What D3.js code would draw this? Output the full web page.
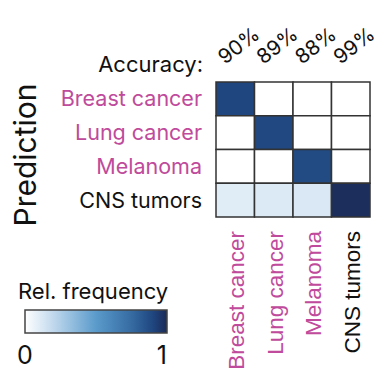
<!DOCTYPE html>
<html>
<head>
<meta charset="utf-8">
<script src="https://cdn.jsdelivr.net/npm/d3@7"></script>
<style>
  body { margin: 0; background: #fff; }
  svg text { font-family: Inter, "Noto Sans", sans-serif; }
</style>
</head>
<body>
<svg id="chart" width="391" height="391"></svg>
<script>
const predicted = ['Breast cancer', 'Lung cancer', 'Melanoma', 'CNS tumors']
const actual = ['Breast cancer', 'Lung cancer', 'Melanoma', 'CNS tumors']
const accuracy = ['90%', '89%', '88%', '99%']
// rows = prediction, columns = true class
const freq = [
  [0.90, 0.00, 0.00, 0.00],
  [0.00, 0.89, 0.00, 0.00],
  [0.00, 0.00, 0.88, 0.00],
  [0.10, 0.11, 0.12, 0.99]
]
const labelColors = ['#c04a9b', '#c04a9b', '#c04a9b', '#111']
const legendTicks = [0, 1]

const svg = d3.select('#chart')
const x = d3.scaleBand().domain(actual).range([216, 370])
const y = d3.scaleBand().domain(predicted).range([82, 217])

const color = d3.scaleLinear()
  .domain([0, 0.2, 0.5, 0.75, 0.9, 1])
  .range(['#ffffff', '#c0d8ed', '#5a9bcb', '#366ba2', '#1f467f', '#1b2b58'])
  .interpolate(d3.interpolateRgb)

const cells = []
freq.forEach((row, i) => row.forEach((v, j) => cells.push({ p: predicted[i], a: actual[j], v })))

svg.append('g').selectAll('rect')
  .data(cells)
  .enter().append('rect')
  .attr('x', d => x(d.a))
  .attr('y', d => y(d.p))
  .attr('width', x.bandwidth())
  .attr('height', y.bandwidth())
  .attr('fill', d => color(d.v))
  .attr('stroke', '#333')
  .attr('stroke-width', 1.5)

// row labels
svg.append('g').selectAll('text')
  .data(predicted)
  .enter().append('text')
  .attr('x', 202)
  .attr('y', d => y(d) + y.bandwidth() / 2)
  .attr('dy', '.35em')
  .attr('text-anchor', 'end')
  .attr('font-size', 21.5)
  .attr('fill', (d, i) => labelColors[i])
  .text(d => d)

// column labels
svg.append('g').selectAll('text')
  .data(actual)
  .enter().append('text')
  .attr('transform', d => `translate(${x(d) + x.bandwidth() / 2 + 1},231) rotate(-90)`)
  .attr('dy', '.35em')
  .attr('text-anchor', 'end')
  .attr('font-size', 22.5)
  .style('font-family', '"Liberation Sans", Arial, sans-serif')
  .attr('fill', (d, i) => labelColors[i])
  .text(d => d)

// accuracy
svg.append('text')
  .attr('x', 203).attr('y', 72)
  .attr('text-anchor', 'end')
  .attr('font-size', 22)
  .attr('fill', '#111')
  .text('Accuracy:')

svg.append('g').selectAll('text')
  .data(accuracy)
  .enter().append('text')
  .attr('transform', (d, i) => `translate(${x(actual[i]) + 9},65) rotate(-38)`)
  .attr('font-size', 20.5)
  .attr('fill', '#111')
  .text(d => d)

svg.append('text')
  .attr('transform', 'translate(36,155) rotate(-90)')
  .attr('text-anchor', 'middle')
  .attr('font-size', 30)
  .attr('fill', '#111')
  .text('Prediction')

// legend
const lx = d3.scaleLinear().domain([0, 1]).range([25, 167])
const defs = svg.append('defs')
const grad = defs.append('linearGradient').attr('id', 'lg')
d3.range(0, 1.001, 0.05).forEach(t => {
  grad.append('stop').attr('offset', t).attr('stop-color', color(t))
})
svg.append('text')
  .attr('x', 18).attr('y', 299)
  .attr('font-size', 22)
  .attr('fill', '#111')
  .text('Rel. frequency')
svg.append('rect')
  .attr('x', lx(0)).attr('y', 310)
  .attr('width', lx(1) - lx(0)).attr('height', 23)
  .attr('fill', 'url(#lg)')
  .attr('stroke', '#444')
  .attr('stroke-width', 1.5)
svg.append('g').selectAll('text')
  .data(legendTicks)
  .enter().append('text')
  .attr('x', d => lx(d))
  .attr('y', 364)
  .attr('text-anchor', (d, i) => i === 0 ? 'middle' : 'end')
  .attr('font-size', 25)
  .attr('fill', '#111')
  .text(d => d)
</script>
</body>
</html>
